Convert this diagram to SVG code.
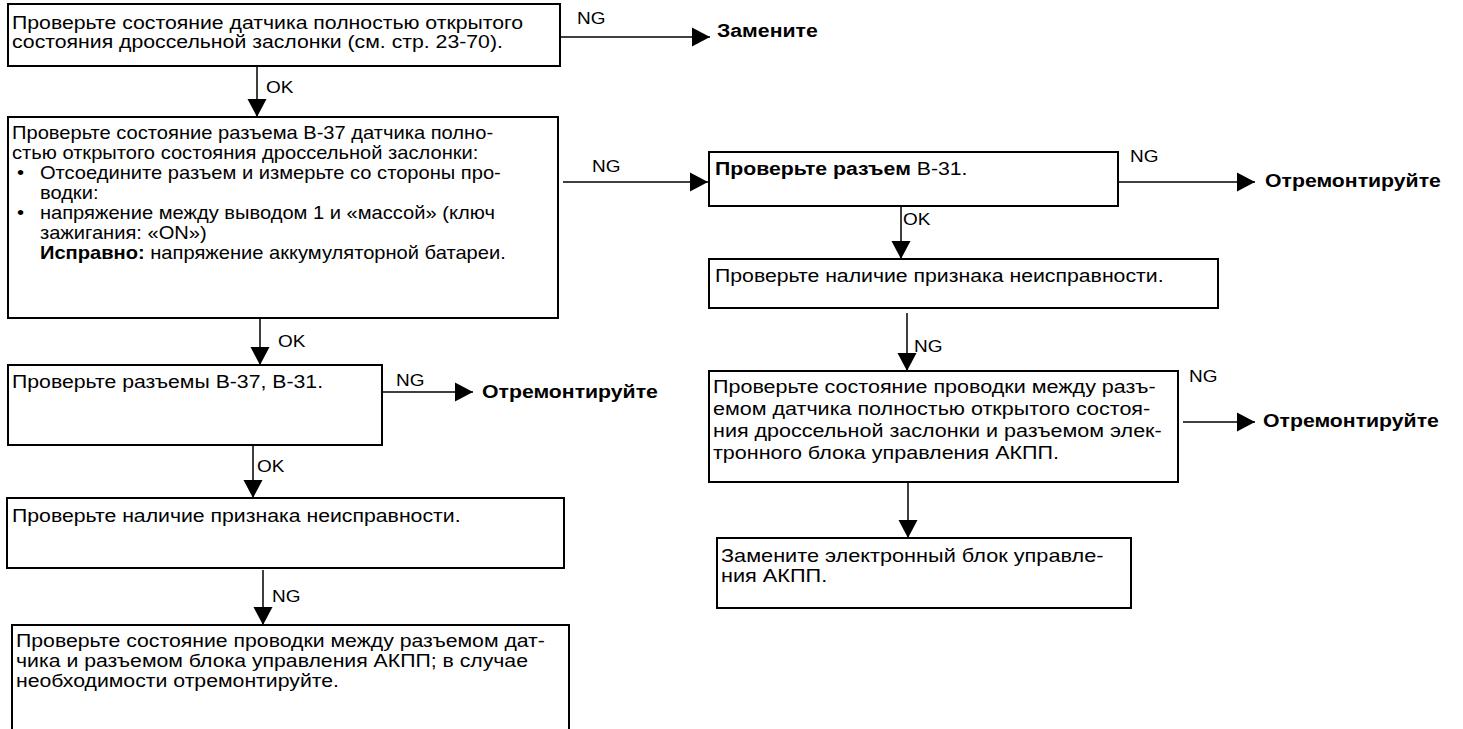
<svg xmlns="http://www.w3.org/2000/svg" width="1463" height="729" viewBox="0 0 1463 729">
<style>
.box{fill:#fff;stroke:#000;stroke-width:2}
.ln{stroke:#000;stroke-width:1.5;fill:none;marker-end:url(#ah)}
.t{font-family:"Liberation Sans",Arial,sans-serif;font-size:17.5px;fill:#000}
.lb{font-family:"Liberation Sans",Arial,sans-serif;font-size:16.5px;fill:#000}
.b{font-weight:bold}
</style>
<defs>
<marker id="ah" markerUnits="userSpaceOnUse" markerWidth="18" markerHeight="20" refX="18" refY="10" orient="auto" viewBox="0 0 18 20"><path d="M0,0.5 L18,10 L0,19.5 Z" fill="#000"/></marker>
</defs>
<rect width="1463" height="729" fill="#fff"/>
<g id="connectors">
<path class="ln" d="M560,37 H710"/>
<path class="ln" d="M257,66 V117"/>
<path class="ln" d="M563,182 H708"/>
<path class="ln" d="M1118,182 H1255"/>
<path class="ln" d="M901,206 V259"/>
<path class="ln" d="M907,313 V371"/>
<path class="ln" d="M1183,422 H1255"/>
<path class="ln" d="M908,482 V538"/>
<path class="ln" d="M260,318 V365"/>
<path class="ln" d="M382,392 H473"/>
<path class="ln" d="M253,445 V498"/>
<path class="ln" d="M263,570 V625"/>
<g class="lb">
<text transform="matrix(1.15 0 0 1 577 24)">NG</text>
<text transform="matrix(1.15 0 0 1 266 93)">OK</text>
<text transform="matrix(1.15 0 0 1 592 172)">NG</text>
<text transform="matrix(1.15 0 0 1 1130 162)">NG</text>
<text transform="matrix(1.15 0 0 1 903 225)">OK</text>
<text transform="matrix(1.15 0 0 1 914 352)">NG</text>
<text transform="matrix(1.15 0 0 1 1189 382)">NG</text>
<text transform="matrix(1.15 0 0 1 278 347)">OK</text>
<text transform="matrix(1.15 0 0 1 396 386)">NG</text>
<text transform="matrix(1.15 0 0 1 257 472)">OK</text>
<text transform="matrix(1.15 0 0 1 272 602)">NG</text>
</g>
</g>
<g id="n1">
<rect class="box" x="8" y="4" width="552" height="62"/>
<text class="t" transform="matrix(1.214 0 0 1 12 29)"><tspan x="0" y="0">Проверьте состояние датчика полностью открытого</tspan><tspan x="0" y="19">состояния дроссельной заслонки (см. стр. 23-70).</tspan></text>
</g>
<g id="r1">
<text class="t b" transform="matrix(1.214 0 0 1 717 37)">Замените</text>
</g>
<g id="n2">
<rect class="box" x="8" y="117" width="550" height="201"/>
<text class="t" transform="matrix(1.15 0 0 1 12 139)"><tspan x="0" y="0">Проверьте состояние разъема В-37 датчика полно-</tspan><tspan x="0" y="20">стью открытого состояния дроссельной заслонки:</tspan><tspan x="4.35" y="40">•</tspan><tspan x="24.3" y="40">Отсоедините разъем и измерьте со стороны про-</tspan><tspan x="24.3" y="60">водки:</tspan><tspan x="4.35" y="80">•</tspan><tspan x="24.3" y="80">напряжение между выводом 1 и «массой» (ключ</tspan><tspan x="24.3" y="100">зажигания: «ON»)</tspan><tspan x="24.3" y="120" class="b">Исправно:</tspan><tspan> напряжение аккумуляторной батареи.</tspan></text>
</g>
<g id="n3">
<rect class="box" x="709" y="152" width="409" height="54"/>
<text class="t" transform="matrix(1.214 0 0 1 715 175)"><tspan class="b">Проверьте разъем</tspan> В-31.</text>
</g>
<g id="r2">
<text class="t b" transform="matrix(1.214 0 0 1 1265 187)">Отремонтируйте</text>
</g>
<g id="n4">
<rect class="box" x="709" y="259" width="509" height="49"/>
<text class="t" transform="matrix(1.214 0 0 1 715 282)">Проверьте наличие признака неисправности.</text>
</g>
<g id="n5">
<rect class="box" x="709" y="371" width="469" height="111"/>
<text class="t" transform="matrix(1.23 0 0 1 713 393)"><tspan x="0" y="0">Проверьте состояние проводки между разъ-</tspan><tspan x="0" y="22">емом датчика полностью открытого состоя-</tspan><tspan x="0" y="44">ния дроссельной заслонки и разъемом элек-</tspan><tspan x="0" y="66">тронного блока управления АКПП.</tspan></text>
</g>
<g id="r3">
<text class="t b" transform="matrix(1.214 0 0 1 1263 427)">Отремонтируйте</text>
</g>
<g id="n6">
<rect class="box" x="717" y="538" width="414" height="70"/>
<text class="t" transform="matrix(1.24 0 0 1 721 562)"><tspan x="0" y="0">Замените электронный блок управле-</tspan><tspan x="0" y="20">ния АКПП.</tspan></text>
</g>
<g id="n7">
<rect class="box" x="8" y="365" width="374" height="80"/>
<text class="t" transform="matrix(1.214 0 0 1 12 388)">Проверьте разъемы В-37, В-31.</text>
</g>
<g id="r4">
<text class="t b" transform="matrix(1.214 0 0 1 482 398)">Отремонтируйте</text>
</g>
<g id="n8">
<rect class="box" x="7" y="498" width="557" height="70"/>
<text class="t" transform="matrix(1.214 0 0 1 12 522)">Проверьте наличие признака неисправности.</text>
</g>
<g id="n9">
<rect class="box" x="12" y="625" width="557" height="130"/>
<text class="t" transform="matrix(1.214 0 0 1 16 647)"><tspan x="0" y="0">Проверьте состояние проводки между разъемом дат-</tspan><tspan x="0" y="20">чика и разъемом блока управления АКПП; в случае</tspan><tspan x="0" y="40">необходимости отремонтируйте.</tspan></text>
</g>
</svg>
